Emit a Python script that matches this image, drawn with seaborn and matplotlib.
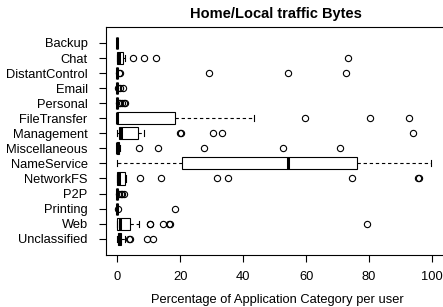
import pandas as pd
import matplotlib
matplotlib.use("Agg")
import matplotlib.pyplot as plt
import seaborn as sns

# categories in display order (top to bottom)
categories = ["Backup", "Chat", "DistantControl", "Email", "Personal",
              "FileTransfer", "Management", "Miscellaneous", "NameService",
              "NetworkFS", "P2P", "Printing", "Web", "Unclassified"]

# per-user percentages
backup = [0] * 24
chat = [0] * 7 + [0.1, 0.2, 0.2, 0.3, 0.4, 0.5, 0.6, 0.8, 1.0, 1.3, 1.7, 1.8,
                  2.4, 4.9, 8.4, 12.1, 73.4]
distant_control = [0] * 19 + [0.4, 0.8, 29.1, 54.1, 72.8]
email = [0] * 21 + [0.3, 0.8, 1.7]
personal = [0] * 19 + [0.4, 0.9, 1.5, 2.0, 2.4]
file_transfer = [0] * 13 + [2, 5, 9, 13, 17, 22, 28, 43.4, 59.5, 80.2, 92.8]
management = [0, 0, 0, 0, 0.2, 0.3, 0.4, 0.5, 0.7, 0.8, 0.9, 1.0, 1.2, 1.8,
              2.6, 3.5, 4.6, 5.8, 8.3, 19.9, 20.3, 30.5, 33.2, 93.9]
miscellaneous = [0] * 17 + [0.3, 0.9, 6.9, 12.8, 27.4, 52.7, 70.9]
name_service = [0, 4, 9, 13, 16, 19.5, 20.7, 27, 35, 42, 48, 52, 56.2, 60, 65,
                69, 72, 75.8, 77.8, 82, 87, 92, 96, 99.6]
network_fs = [0] * 12 + [0.1, 0.2, 0.3, 0.4, 0.5, 0.7, 0.9, 1.2, 1.5, 1.8, 2.1,
                         2.4, 2.8, 7.2, 13.7, 31.6, 35.1, 74.6, 95.5, 95.8]
p2p = [0] * 20 + [0.5, 1.0, 1.6, 2.2]
printing = [0] * 22 + [0.3, 18.4]
web = [0] * 9 + [0.1, 0.2, 0.3, 0.4, 0.5, 0.6, 0.7, 0.9, 1.1, 1.4, 1.8, 2.2,
                 2.7, 3.2, 3.6, 5.0, 7.0, 10.2, 10.4, 14.6, 16.5, 16.8, 79.2]
unclassified = [0] * 6 + [0.1, 0.1, 0.2, 0.2, 0.3, 0.4, 0.5, 0.6, 0.7, 0.8,
                          1.0, 1.1, 1.5, 2.4, 3.8, 4.0, 9.3, 11.4]

values = [backup, chat, distant_control, email, personal, file_transfer,
          management, miscellaneous, name_service, network_fs, p2p, printing,
          web, unclassified]

rows = []
for cat, vals in zip(categories, values):
    for v in vals:
        rows.append({"Category": cat, "Percentage": v})
df = pd.DataFrame(rows)

plt.rcParams["font.family"] = ["Liberation Sans", "DejaVu Sans"]

fig = plt.figure(figsize=(4.43, 3.07), dpi=100)
ax = fig.add_axes([105.5 / 443, 1 - 254.7 / 307, (444 - 105.5) / 443, (254.7 - 27) / 307])

sns.boxplot(data=df, x="Percentage", y="Category", order=categories,
            orient="h", color="white", linecolor="black", linewidth=0.8,
            width=0.8, whis=1.5, fliersize=4.5, ax=ax,
            whiskerprops=dict(linestyle=(0, (3, 2.5))),
            medianprops=dict(linewidth=2.2),
            flierprops=dict(marker="o", markerfacecolor="none",
                            markeredgecolor="black", markeredgewidth=0.8))

ax.set_xlim(-3.8, 103.8)
ax.set_ylim(14.06, -1.06)
ax.set_xticks([0, 20, 40, 60, 80, 100])
ax.set_xlabel("")
ax.set_ylabel("")
ax.tick_params(axis="both", labelsize=9.3, length=5.3, width=0.8, color="black",
               direction="out")
ax.tick_params(axis="y", pad=7.5)
ax.tick_params(axis="x", pad=6.5)
for side in ["left", "bottom", "top"]:
    ax.spines[side].set_linewidth(0.8)
    ax.spines[side].set_color("black")
ax.spines["right"].set_visible(False)

fig.text(276 / 443, 1 - 14 / 307, "Home/Local traffic Bytes", ha="center",
         va="center", fontsize=10.5, fontweight="bold")
fig.text(277 / 443, 1 - 300 / 307, "Percentage of Application Category per user",
         ha="center", va="center", fontsize=9.3)

fig.savefig("out.png", dpi=100)
